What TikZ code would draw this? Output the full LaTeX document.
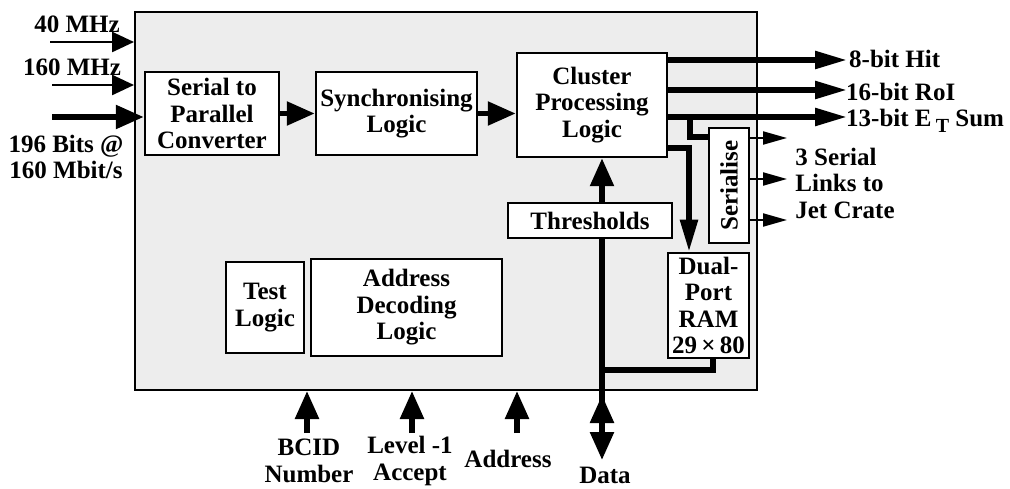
\documentclass[tikz,border=0pt]{standalone}
\usepackage{fontspec}
\setmainfont{Liberation Serif}
\usetikzlibrary{arrows.meta,positioning}

\tikzset{
    blk/.style={draw, line width=2.5pt, fill=white, align=center, inner sep=0pt},
    bus/.style={line width=5.5pt, -{Triangle[length=28pt,width=23pt]}},
    outbus/.style={line width=5.5pt, -{Triangle[length=32pt,width=17pt]}},
    wire/.style={line width=5.5pt},
    sig/.style={line width=2.5pt, -{Triangle[length=22pt,width=20pt]}},
    lnk/.style={line width=2pt, -{Triangle[length=24pt,width=13pt]}},
    lbl/.style={align=center, inner sep=0pt},
}

\begin{document}
\begin{tikzpicture}[x=1pt, y=-1pt, font=\fontsize{25}{26.5}\selectfont\bfseries]
    \useasboundingbox (0,0) rectangle (1010,489);
    \node [draw, line width=2pt, fill=black!7, minimum width=622pt, minimum height=378pt, inner sep=0pt] (chip) at (446,201) {};

    % blocks
    \node [blk, minimum width=134pt, minimum height=83pt] (s2p) at (212,113.5) {Serial to\\Parallel\\Converter};
    \node [blk, minimum width=161pt, minimum height=83pt] (sync) at (396.5,113.5) {Synchronising\\Logic};
    \node [blk, minimum width=150pt, minimum height=104pt] (clus) at (592,105) {Cluster\\Processing\\Logic};
    \node [blk, minimum width=164pt, minimum height=35pt] (thr) at (590,220.5) {Thresholds};
    \node [blk, minimum width=40pt, minimum height=115pt] (ser) at (729,185.5) {\rotatebox{90}{Serialise}};
    \node [blk, minimum width=81pt, minimum height=105pt] (ram) at (708.5,305.5) {Dual-\\Port\\RAM\\29\,×\,80};
    \node [blk, minimum width=78pt, minimum height=91pt] (test) at (265,307.5) {Test\\Logic};
    \node [blk, minimum width=191pt, minimum height=97pt] (adec) at (406.5,307.5) {Address\\Decoding\\Logic};

    % inputs on the left
    \coordinate (in40) at (50,42);
    \coordinate (in160) at (52,85);
    \coordinate (inbits) at (52,117);
    \draw [sig] (in40) -- (in40 -| chip.west);
    \draw [sig] (in160) -- (in160 -| chip.west);
    \draw [bus] (inbits) -- (inbits -| s2p.west);
    \node [lbl] (l40) at (77,24) {40 MHz};
    \node [lbl] (l160) at (72,67) {160 MHz};
    \node [lbl] (lbits) at (66,157) {196 Bits @\\160 Mbit/s};

    \draw [bus] (s2p.east) -- (sync.west);
    \draw [bus] (sync.east) -- (sync.east -| clus.west);

    % outputs
    \coordinate (hit) at (847,60);
    \coordinate (roi) at (847,90);
    \coordinate (sum) at (847,117);
    \draw [outbus] (clus.east |- hit) -- (hit);
    \draw [outbus] (clus.east |- roi) -- (roi);
    \draw [outbus] (clus.east |- sum) -- (sum);
    \node [anchor=base west, inner sep=0pt] (lhit) at (849,68) {8-bit Hit};
    \node [anchor=base west, inner sep=0pt] (lroi) at (846,101) {16-bit RoI};
    \node [anchor=base west, inner sep=0pt] (lsum) at (846,127) {13-bit E\,\raisebox{-6pt}{\fontsize{20}{20}\selectfont T} Sum};

    \coordinate (tap) at (690,117);
    \coordinate (serin) at (690,137);
    \draw [wire] (tap) -- (serin) -- (serin -| ser.west);
    \foreach \y/\n in {138/a, 179/b, 220/c} {
        \coordinate (lk\n) at (787,\y);
        \draw [lnk] (ser.east |- lk\n) -- (lk\n);
    }
    \node [align=left, inner sep=0pt] (llinks) at (845,183) {3 Serial\\Links to\\Jet Crate};

    \coordinate (rambend) at (689,148);
    \draw [outbus] (clus.east |- rambend) -- (rambend) -- (rambend |- ram.north);

    % thresholds and data bus
    \coordinate (dtop) at (602,238);
    \coordinate (dend) at (602,460);
    \coordinate (dmid) at (602,428);
    \coordinate (dup) at (602,395);
    \draw [bus] (dtop |- thr.north) -- (dtop |- clus.south);
    \draw [bus] (dtop) -- (dend);
    \draw [bus] (dmid) -- (dup);
    \coordinate (ramtap) at (713,370);
    \draw [wire] (ramtap |- ram.south) -- (ramtap) -- (ramtap -| dend);

    % inputs at the bottom
    \foreach \x/\n in {307/bcid, 412/lvl, 517/addr} {
        \coordinate (\n) at (\x,433);
        \draw [bus] (\n) -- (\n |- chip.south);
    }
    \node [lbl] (lbcid) at (309,461) {BCID\\Number};
    \node [lbl] (llvl) at (410,461) {Level -1\\Accept};
    \node [lbl] (laddr) at (508,459) {Address};
    \node [lbl] (ldata) at (605,475) {Data};
\end{tikzpicture}
\end{document}
